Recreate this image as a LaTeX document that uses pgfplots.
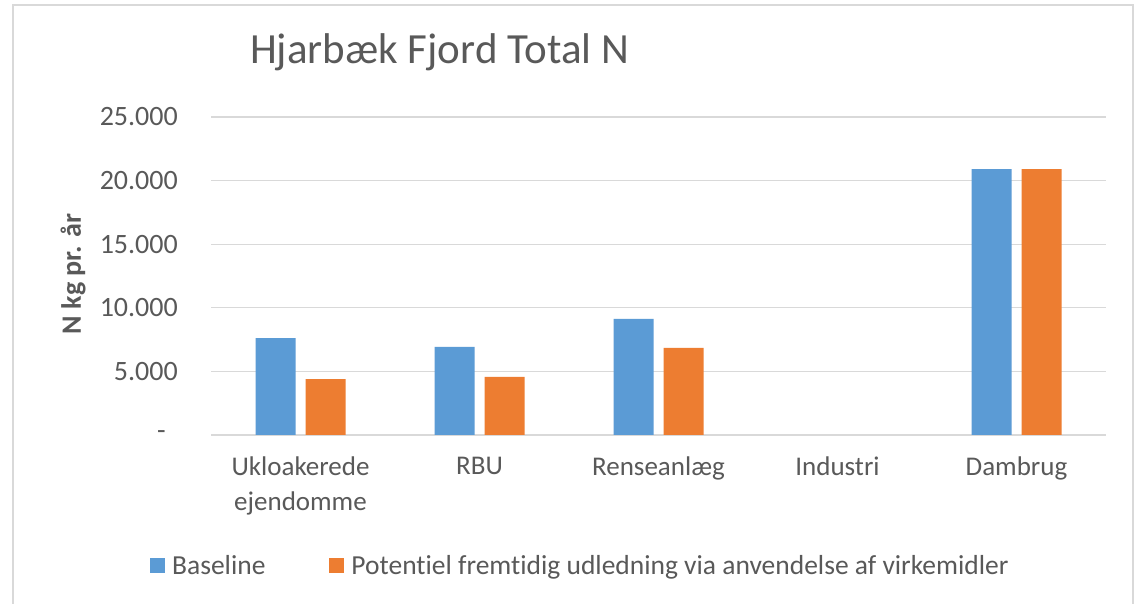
\documentclass[border=0pt]{standalone}
\usepackage{fontspec}
\setmainfont{Carlito}[Ligatures=NoCommon]
\usepackage{pgfplots}
\pgfplotsset{compat=1.18}
\definecolor{txt}{HTML}{595959}
\definecolor{gridc}{HTML}{D9D9D9}
\definecolor{cblue}{HTML}{5B9BD5}
\definecolor{corange}{HTML}{ED7D31}
\begin{document}
\begin{tikzpicture}
\useasboundingbox (0,0) rectangle (1147bp,604bp);
\fill[white] (0,0) rectangle (1147bp,604bp);
\draw[gridc, line width=1.5bp] (13bp,-5bp) -- (13bp,599bp) -- (1133bp,599bp) -- (1133bp,-5bp);
\begin{axis}[
  at={(211bp,169bp)}, anchor=south west,
  scale only axis, width=895bp, height=318bp,
  ybar=10bp, bar width=40bp,
  xmin=-0.5, xmax=4.5, ymin=0, ymax=25000,
  scaled y ticks=false,
  xtick={0,1,2,3,4},
  xticklabels={{Ukloakerede\\ejendomme},RBU,Renseanlæg,Industri,Dambrug},
  ytick={0,5000,10000,15000,20000,25000},
  yticklabels={{-\rule{12bp}{0pt}},5.000,10.000,15.000,20.000,25.000},
  axis line style={draw=none},
  major tick length=0pt,
  ymajorgrids, major grid style={gridc, line width=1.2bp},
  xticklabel style={align=center, anchor=north, inner sep=0pt, yshift=-22bp, text=txt, font=\fontsize{27bp}{35bp}\selectfont},
  yticklabel style={anchor=east, inner sep=0pt, xshift=-33bp, text=txt, font=\fontsize{28bp}{33bp}\selectfont},
  legend columns=2,
  legend style={at={(-0.0682,-0.410)}, anchor=west, draw=none, fill=none, inner sep=0pt,
    font=\fontsize{27.5bp}{33bp}\selectfont, text=txt,
    /tikz/every odd column/.append style={column sep=7bp},
    /tikz/every even column/.append style={column sep=64bp},
    nodes={inner sep=0pt, anchor=west}},
  legend image code/.code={\fill[#1] (0bp,-7.5bp) rectangle (15bp,7.5bp);},
]
\addplot[fill=cblue, draw=none] coordinates {(0,7620) (1,6920) (2,9120) (4,20900)};
\addplot[fill=corange, draw=none] coordinates {(0,4400) (1,4560) (2,6840) (4,20900)};
\legend{Baseline, Potentiel fremtidig udledning via anvendelse af virkemidler}
\end{axis}
\node[anchor=base west, inner sep=0pt, text=txt, font=\fontsize{43bp}{50bp}\selectfont] at (250bp,540bp) {Hjarbæk Fjord Total N};
\node[rotate=90, inner sep=0pt, text=txt, font=\fontsize{28bp}{34bp}\selectfont\bfseries] at (73bp,330bp) {N kg pr. år};
\end{tikzpicture}
\end{document}
